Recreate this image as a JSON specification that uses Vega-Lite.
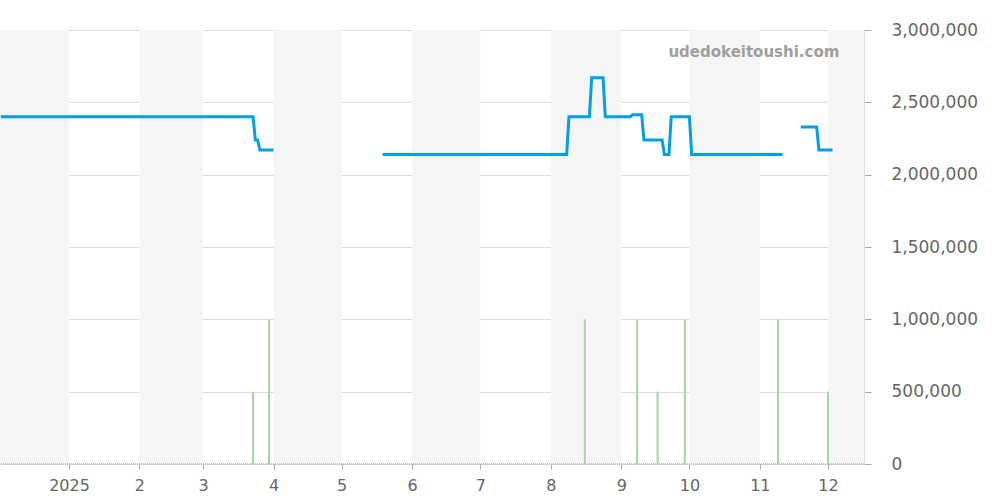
{
  "$schema": "https://vega.github.io/schema/vega-lite/v6.json",
  "width": 864,
  "height": 434,
  "autosize": {"type": "none"},
  "padding": {"left": 0, "top": 30, "right": 136, "bottom": 36},
  "background": "white",
  "config": {
    "view": {"stroke": null},
    "font": "DejaVu Sans",
    "axisY": {
      "title": null,
      "orient": "right",
      "grid": true,
      "gridColor": "#dddddd",
      "domainColor": "#e0e0e0",
      "tickColor": "#aaaaaa",
      "tickSize": 7,
      "labelPadding": 20,
      "labelFontSize": 17,
      "labelColor": "#666666",
      "zindex": 1
    }
  },
  "datasets": {
    "bands": [
      {"start": "2024-12-01", "end": "2025-01-01"},
      {"start": "2025-02-01", "end": "2025-03-01"},
      {"start": "2025-04-01", "end": "2025-05-01"},
      {"start": "2025-06-01", "end": "2025-07-01"},
      {"start": "2025-08-01", "end": "2025-09-01"},
      {"start": "2025-10-01", "end": "2025-11-01"},
      {"start": "2025-12-01", "end": "2026-01-01"}
    ],
    "price": [
      {"seg": 1, "date": "2024-12-02", "price": 2400000},
      {"seg": 1, "date": "2025-03-23", "price": 2400000},
      {"seg": 1, "date": "2025-03-24", "price": 2240000},
      {"seg": 1, "date": "2025-03-25", "price": 2240000},
      {"seg": 1, "date": "2025-03-26", "price": 2170000},
      {"seg": 1, "date": "2025-04-01", "price": 2170000},
      {"seg": 2, "date": "2025-05-19", "price": 2140000},
      {"seg": 2, "date": "2025-08-08", "price": 2140000},
      {"seg": 2, "date": "2025-08-09", "price": 2400000},
      {"seg": 2, "date": "2025-08-18", "price": 2400000},
      {"seg": 2, "date": "2025-08-19", "price": 2670000},
      {"seg": 2, "date": "2025-08-24", "price": 2670000},
      {"seg": 2, "date": "2025-08-25", "price": 2400000},
      {"seg": 2, "date": "2025-09-05", "price": 2400000},
      {"seg": 2, "date": "2025-09-06", "price": 2415000},
      {"seg": 2, "date": "2025-09-10", "price": 2415000},
      {"seg": 2, "date": "2025-09-11", "price": 2240000},
      {"seg": 2, "date": "2025-09-19", "price": 2240000},
      {"seg": 2, "date": "2025-09-20", "price": 2140000},
      {"seg": 2, "date": "2025-09-22", "price": 2140000},
      {"seg": 2, "date": "2025-09-23", "price": 2400000},
      {"seg": 2, "date": "2025-10-01", "price": 2400000},
      {"seg": 2, "date": "2025-10-02", "price": 2140000},
      {"seg": 2, "date": "2025-11-11", "price": 2140000},
      {"seg": 3, "date": "2025-11-19", "price": 2330000},
      {"seg": 3, "date": "2025-11-26", "price": 2330000},
      {"seg": 3, "date": "2025-11-27", "price": 2170000},
      {"seg": 3, "date": "2025-12-03", "price": 2170000}
    ],
    "volume": [
      {"date": "2025-03-23", "volume": 500000},
      {"date": "2025-03-30", "volume": 1000000},
      {"date": "2025-08-16", "volume": 1000000},
      {"date": "2025-09-08", "volume": 1000000},
      {"date": "2025-09-17", "volume": 500000},
      {"date": "2025-09-29", "volume": 1000000},
      {"date": "2025-11-09", "volume": 1000000},
      {"date": "2025-12-01", "volume": 500000}
    ]
  },
  "layer": [
    {
      "data": {"name": "bands"},
      "mark": {"type": "rect", "color": "#f5f5f5", "clip": true},
      "encoding": {
        "x": {
          "field": "start",
          "type": "temporal",
          "scale": {
            "type": "utc",
            "domain": ["2024-12-01T15:20:00Z", "2025-12-16T20:00:00Z"]
          },
          "axis": {
            "title": null,
            "orient": "bottom",
            "domain": false,
            "grid": false,
            "tickCount": {"interval": "month", "step": 1},
            "tickColor": "#aaaaaa",
            "tickSize": 5,
            "labelFontSize": 16,
            "labelColor": "#666666",
            "labelPadding": 8,
            "labelExpr": "utcmonth(datum.value) == 0 ? utcFormat(datum.value, '%Y') : '' + (utcmonth(datum.value) + 1)"
          }
        },
        "x2": {"field": "end"}
      }
    },
    {
      "data": {"name": "price"},
      "mark": {"type": "line", "color": "#009fe8", "strokeWidth": 3},
      "encoding": {
        "x": {"field": "date", "type": "temporal"},
        "y": {
          "field": "price",
          "type": "quantitative",
          "scale": {"domain": [0, 3000000], "nice": false, "zero": true},
          "axis": {"values": [0, 500000, 1000000, 1500000, 2000000, 2500000, 3000000], "labelExpr": "format(datum.value, ',')", "orient": "right"}
        },
        "detail": {"field": "seg", "type": "nominal"}
      }
    },
    {
      "data": {"name": "volume"},
      "mark": {"type": "rule", "color": "#9ed8a8", "strokeWidth": 2},
      "encoding": {
        "x": {"field": "date", "type": "temporal"},
        "y": {
          "field": "volume",
          "type": "quantitative",
          "axis": {"values": [0, 500000, 1000000, 1500000, 2000000, 2500000, 3000000], "labelExpr": "format(datum.value, ',')", "orient": "right"}
        },
        "y2": {"datum": 0}
      }
    },
    {
      "data": {"name": "volume"},
      "mark": {"type": "rule", "color": "#9ed8a8", "strokeWidth": 1, "strokeDash": [1, 1]},
      "encoding": {
        "y": {
          "datum": 0,
          "type": "quantitative",
          "axis": {"values": [0, 500000, 1000000, 1500000, 2000000, 2500000, 3000000], "labelExpr": "format(datum.value, ',')", "orient": "right"}
        }
      }
    },
    {
      "data": {"name": "volume"},
      "mark": {"type": "text", "align": "right", "baseline": "middle", "fontSize": 15, "fontWeight": "bold", "color": "#9e9e9e", "text": "udedokeitoushi.com"},
      "transform": [{"aggregate": [{"op": "count", "as": "n"}]}],
      "encoding": {
        "x": {"datum": {"year": 2025, "month": 12, "date": 6, "utc": true}, "type": "temporal"},
        "y": {
          "datum": 2850000,
          "type": "quantitative",
          "axis": {"values": [0, 500000, 1000000, 1500000, 2000000, 2500000, 3000000], "labelExpr": "format(datum.value, ',')", "orient": "right"}
        }
      }
    }
  ]
}
